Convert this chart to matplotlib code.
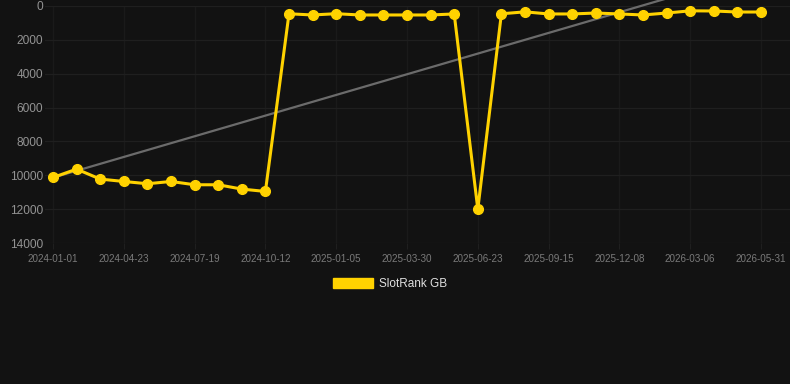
import matplotlib
matplotlib.use("Agg")
import matplotlib.pyplot as plt
from matplotlib.patches import Patch
import numpy as np

plt.rcParams['font.family'] = ['Liberation Sans', 'DejaVu Sans']

# ---- data ----
rank_values = [10130, 9635, 10225, 10365, 10500, 10365, 10560, 10560, 10815, 10955,
               460, 530, 455, 530, 530, 530, 530, 470, 12000, 460,
               345, 470, 470, 415, 470, 530, 415, 285, 295, 355, 355]
tick_labels = ["2024-01-01", "2024-04-23", "2024-07-19", "2024-10-12", "2025-01-05",
               "2025-03-30", "2025-06-23", "2025-09-15", "2025-12-08", "2026-03-06",
               "2026-05-31"]
y_ticks = [0, 2000, 4000, 6000, 8000, 10000, 12000, 14000]
series_name = "SlotRank GB"

bg = "#121212"
gold = "#FFD200"

W, H = 790, 384
fig = plt.figure(figsize=(W / 100, H / 100), dpi=100, facecolor=bg)
left_px, right_px, top_px, bottom_px = 45, 790, 6, 243
first_px, last_px = 53, 761
ax = fig.add_axes([left_px / W, 1 - bottom_px / H, (right_px - left_px) / W, (bottom_px - top_px) / H])
ax.set_facecolor(bg)

x = np.arange(len(rank_values))
y = np.array(rank_values, dtype=float)

# trend line (linear fit)
slope, intercept = np.polyfit(x, y, 1)
ax.plot(x, intercept + slope * x, color="#6b6b6b", lw=1.6, zorder=2, clip_on=False)

ax.plot(x, y, color=gold, lw=2.2, marker="o", markersize=7, markerfacecolor=gold,
        markeredgecolor=gold, zorder=3, clip_on=False)

spacing = (last_px - first_px) / (len(rank_values) - 1)
ax.set_xlim(-(first_px - left_px) / spacing, (right_px - first_px) / spacing)
ax.set_ylim(14000, 0)

tick_pos = list(range(0, len(rank_values), 3))
ax.set_xticks(tick_pos)
ax.set_xticklabels(tick_labels, fontsize=7.1, color="#7a7a7a")
ax.set_yticks(y_ticks)
ax.set_yticklabels([str(v) for v in y_ticks], fontsize=8.6, color="#939393")

ax.grid(True, axis="y", color="#1f1f1f", lw=0.9)
ax.grid(True, axis="x", color="#1a1a1a", lw=0.9)
ax.set_axisbelow(True)
for s in ax.spines.values():
    s.set_visible(False)
ax.tick_params(axis="x", length=4, color="#1f1f1f", pad=4)
ax.tick_params(axis="y", length=0, pad=1.5)

handle = Patch(facecolor=gold, edgecolor=gold)
fig.legend([handle], [series_name], loc="center", bbox_to_anchor=(0.494, 1 - 284 / H),
           frameon=False, fontsize=8.5, labelcolor="#e0e0e0",
           handlelength=3.4, handleheight=1.0, handletextpad=0.5)

fig.savefig("out.png", dpi=100, facecolor=bg)
